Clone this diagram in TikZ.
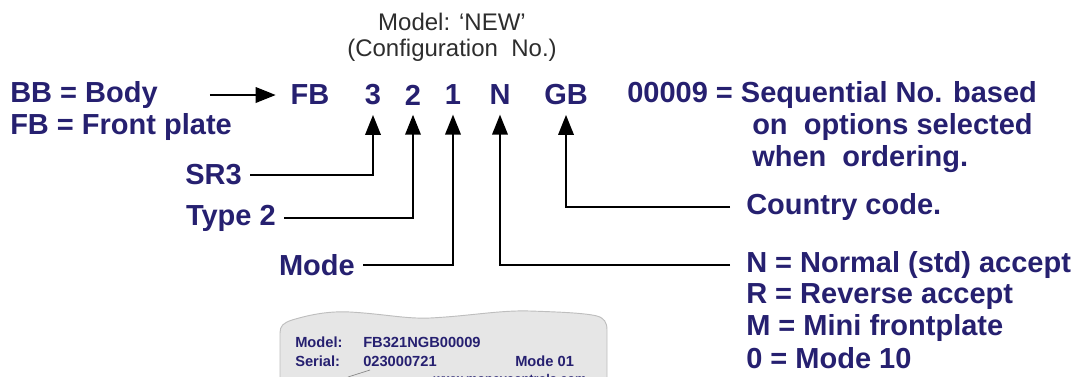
\documentclass[tikz,border=0pt]{standalone}
\usepackage{fontspec}
\setmainfont{Liberation Sans}
\usetikzlibrary{arrows.meta}
\definecolor{navy}{RGB}{38,32,112}
\definecolor{labelgray}{RGB}{230,230,230}
\definecolor{labeledge}{RGB}{190,190,190}
\definecolor{capgray}{RGB}{45,45,45}
\begin{document}
\begin{tikzpicture}[x=0.75pt,y=-0.75pt,
  big/.style={inner sep=0pt, text=navy, font=\fontsize{21.75}{26}\selectfont\bfseries},
  lbl/.style={big, anchor=west},
  code/.style={big, anchor=center},
  captxt/.style={inner sep=0pt, text=capgray, font=\fontsize{18}{22}\selectfont},
  small/.style={inner sep=0pt, anchor=west, text=navy, font=\fontsize{11}{13}\selectfont\bfseries},
  conn/.style={line width=1.8pt, -{Triangle[length=15pt,width=11.5pt]}},
]
\useasboundingbox (0,0) rectangle (1078,376);

% caption
\node[captxt] (capA) at (452,22) {Model: ‘NEW’};
\node[captxt] (capB) at (452,50) {(Configuration~ No.)};

% left labels
\node[lbl] (bb) at (10,95) {BB = Body};
\node[lbl] (fbl) at (10,127) {FB = Front plate};

% code letters
\node[code] (cFB) at (310,95) {FB};
\node[code] (c3) at (373,95) {3};
\node[code] (c2) at (413,95) {2};
\node[code] (c1) at (453,95) {1};
\node[code] (cN) at (500,95) {N};
\node[code] (cGB) at (566,95) {GB};

% sequential
\node[lbl] (seq) at (627,95) {00009 = Sequential No. based};
\node[lbl] (seq2) at (752,127) {on~ options selected};
\node[lbl] (seq3) at (752,159) {when~ ordering.};

% lower labels
\node[big, anchor=east] (sr3) at (242,175) {SR3};
\node[big, anchor=east] (type2) at (276,218) {Type 2};
\node[big, anchor=east] (mode) at (355,265) {Mode};
\node[lbl] (country) at (746,207) {Country code.};
\node[lbl] (normal) at (746,265) {N = Normal (std) accept};
\node[lbl] (rev) at (746,297) {R = Reverse accept};
\node[lbl] (mini) at (746,328) {M = Mini frontplate};
\node[lbl] (m10) at (746,358) {0 = Mode 10};

% connectors
\draw[conn, shorten <=39pt, shorten >=11pt] (bb.east) -- (cFB.west);
\draw[conn, shorten <=6pt, shorten >=7pt] (sr3.east) -| (c3.south);
\draw[conn, shorten <=6pt, shorten >=7pt] (type2.east) -| (c2.south);
\draw[conn, shorten <=6pt, shorten >=7pt] (mode.east) -| (c1.south);
\draw[conn, shorten <=12pt, shorten >=7pt] (normal.west) -| (cN.south);
\draw[conn, shorten <=12pt, shorten >=7pt] (country.west) -| (cGB.south);

% label plate
\begin{scope}
\clip (0,0) rectangle (1078,376);
\filldraw[fill=labelgray, draw=labeledge, line width=0.7pt]
  (280,400) -- (280,333)
  .. controls (280,326) and (283,323) .. (292,320)
  .. controls (312,314) and (330,311) .. (350,312)
  .. controls (385,314) and (405,319) .. (430,318)
  .. controls (470,316) and (500,310) .. (530,311)
  .. controls (560,312) and (585,313) .. (597,316)
  .. controls (604,318) and (607,322) .. (607,330)
  -- (607,400) -- cycle;
\node[small] (pm) at (295,342) {Model:};
\node[small] (pmv) at (363,342) {FB321NGB00009};
\node[small] (ps) at (295,361) {Serial:};
\node[small] (psv) at (363,361) {023000721};
\node[small] (pmode) at (515,361) {Mode 01};
\node[inner sep=0pt, anchor=base, text=navy, font=\fontsize{9.5}{11}\selectfont\bfseries] (url) at (510,383) {www.moneycontrols.com};
\draw[labeledge!70!black, line width=0.5pt] (348,377) -- (370,370);
\end{scope}
\end{tikzpicture}
\end{document}
